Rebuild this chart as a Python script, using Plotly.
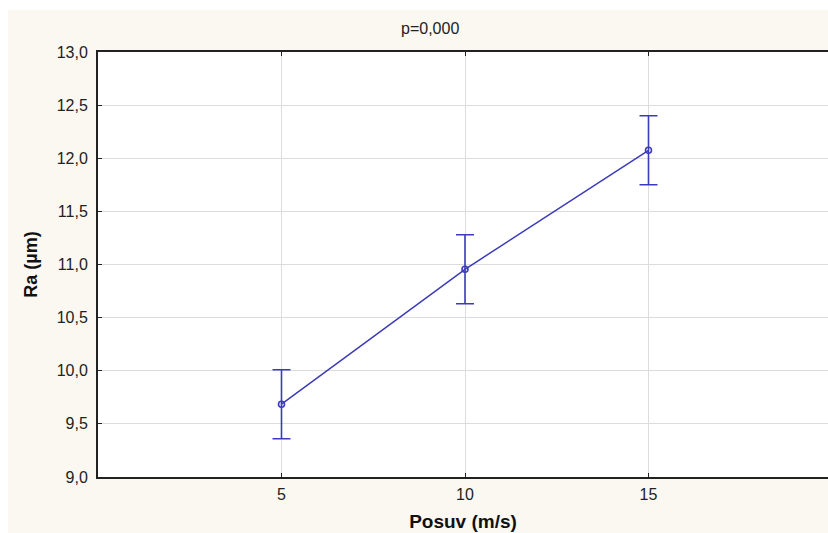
import plotly.graph_objects as go

posuv = [5, 10, 15]
ra_mean = [9.685, 10.955, 12.075]
ra_err = [0.325, 0.325, 0.325]
x_ticks = [5, 10, 15]
y_ticks = [9.0, 9.5, 10.0, 10.5, 11.0, 11.5, 12.0, 12.5, 13.0]

W, H = 828, 533
ML, MR, MT, MB = 98, 0, 52, 56
pw, ph = W - ML - MR, H - MT - MB

blue = "rgb(60,60,185)"
beige = "#FAF8F1"

fig = go.Figure()
fig.add_trace(go.Scatter(
    x=posuv, y=ra_mean, mode="lines+markers",
    line=dict(color=blue, width=1.5),
    marker=dict(symbol="circle-open", size=6, color=blue, line=dict(width=1.6, color=blue)),
    error_y=dict(type="data", array=ra_err, visible=True, color=blue, thickness=1.6, width=9),
    showlegend=False,
))

fig.update_layout(
    width=W, height=H,
    margin=dict(l=ML, r=MR, t=MT, b=MB),
    paper_bgcolor=beige, plot_bgcolor="white",
    separators=",.",
    font=dict(family="Liberation Sans, Arial, sans-serif", color="#222222", size=16),
    xaxis=dict(
        range=[0, 20 * pw / 734], tickvals=x_ticks, ticktext=[str(v) for v in x_ticks],
        showgrid=True, gridcolor="#dcdcdc", gridwidth=1,
        showline=True, linecolor="#222222", linewidth=2, mirror="ticks",
        ticks="inside", ticklen=4, tickcolor="#222222", tickwidth=1,
        zeroline=False, ticklabelstandoff=2,
        title=dict(text="<b>Posuv (m/s)</b>", font=dict(size=19, color="#111111"), standoff=12),
    ),
    yaxis=dict(
        range=[9.0, 13.0], tickvals=y_ticks, tickformat=".1f",
        showgrid=True, gridcolor="#dcdcdc", gridwidth=1,
        showline=True, linecolor="#222222", linewidth=2,
        ticks="inside", ticklen=4, tickcolor="#222222", tickwidth=1,
        zeroline=False, ticklabelstandoff=5,
        title=dict(text="<b>Ra (µm)</b>", font=dict(size=18, color="#111111"), standoff=14),
    ),
    shapes=[
        dict(type="rect", xref="paper", yref="paper", layer="below",
             x0=-ML / pw, x1=1, y0=1 + (MT - 10) / ph, y1=1 + MT / ph,
             fillcolor="white", line=dict(width=0)),
        dict(type="rect", xref="paper", yref="paper", layer="below",
             x0=-ML / pw, x1=(8 - ML) / pw, y0=-MB / ph, y1=1 + MT / ph,
             fillcolor="white", line=dict(width=0)),
    ],
    annotations=[
        dict(text="p=0,000", xref="paper", yref="paper",
             x=(430 - ML) / pw, y=1 + (MT - 29) / ph, xanchor="center", yanchor="middle",
             showarrow=False, font=dict(size=16, color="#222222")),
    ],
)

fig.write_html("out.html")
